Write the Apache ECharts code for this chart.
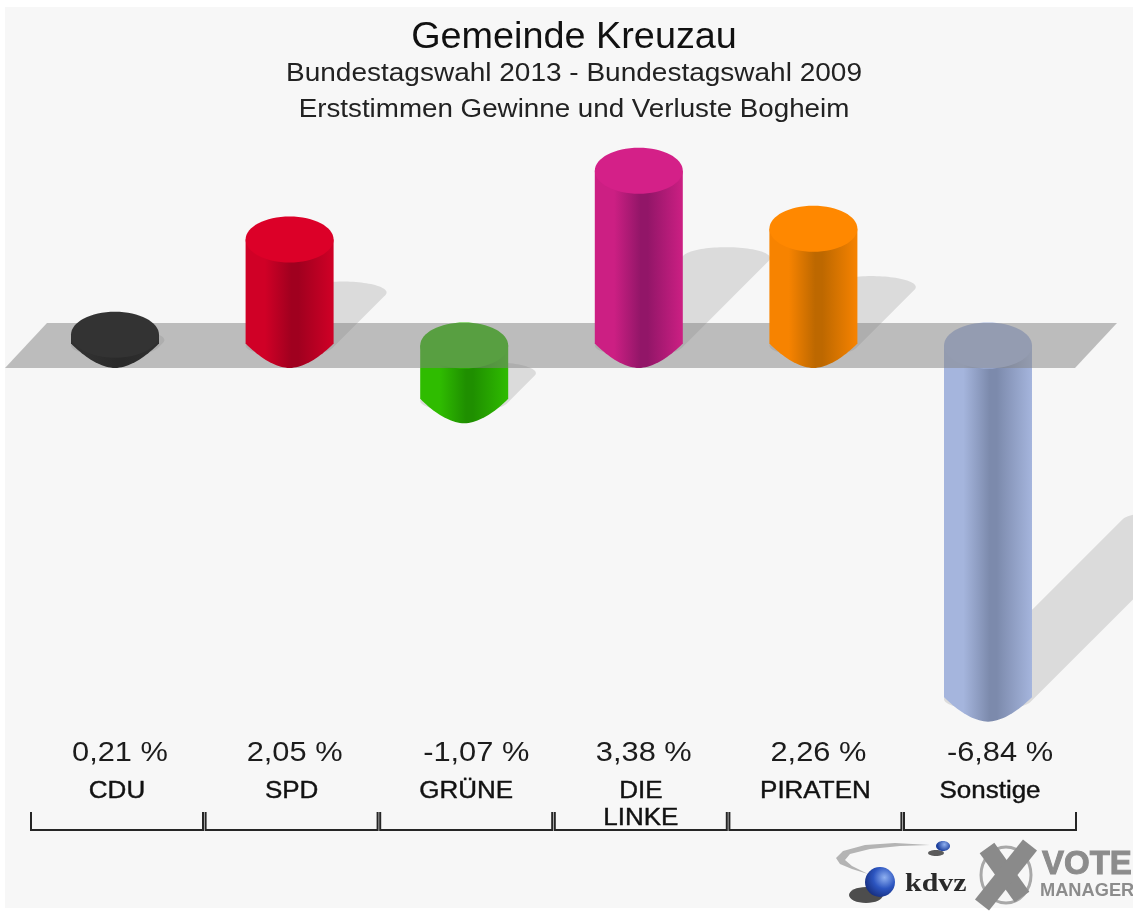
<!DOCTYPE html>
<html>
<head>
<meta charset="utf-8">
<title>Gemeinde Kreuzau</title>
<style>
  html, body { margin: 0; padding: 0; background: #ffffff; }
  #chart { width: 1133px; height: 911px; }
</style>
<script src="https://cdn.jsdelivr.net/npm/echarts@6/dist/echarts.min.js"></script>
</head>
<body>
<div id="chart"></div>
<script>
const categories = ["CDU", "SPD", "GRÜNE", "DIE\nLINKE", "PIRATEN", "Sonstige"];
const values = [0.21, 2.05, -1.07, 3.38, 2.26, -6.84];
const valueLabels = ["0,21 %", "2,05 %", "-1,07 %", "3,38 %", "2,26 %", "-6,84 %"];

// cap colour, side colour, darkest colour of the cylinder
const partyColors = [
  ["#333333", "#303030", "#2a2a2a"],
  ["#dc0028", "#d00026", "#a0001f"],
  ["#2fbc00", "#2fbc00", "#1f8f00"],
  ["#d42088", "#cc1f83", "#921668"],
  ["#ff8800", "#f78300", "#bd6800"],
  ["#a7b7e0", "#a5b5dd", "#7c8aac"],
];

const FONT = '"Liberation Sans", Arial, sans-serif';
const RX = 44;
const RY = 23;
const SHADOW_RY = 11;
const SHADOW_SHEAR = 0.5;

const points = values.map((v, i) => [i, v]);

const barGradient = (c) =>
  new echarts.graphic.LinearGradient(0, 0, 1, 0, [
    { offset: 0, color: c[1] },
    { offset: 0.22, color: c[1] },
    { offset: 0.52, color: c[2] },
    { offset: 0.6, color: c[2] },
    { offset: 1, color: c[1] },
  ]);

// cylinder standing on / hanging from the zero plane
const renderBar = (params, api) => {
  const i = api.value(0);
  const [cx, yv] = api.coord([i, api.value(1)]);
  const y0 = api.coord([i, 0])[1];
  const yTop = Math.min(yv, y0);
  const yBottom = Math.max(yv, y0);
  const c = partyColors[i];
  const pts = [[cx - RX, yTop]];
  // bottom is flatter at the sides than a real ellipse, the picture has a small corner there
  for (let k = -20; k <= 20; k++) {
    const t = k / 20;
    pts.push([cx + t * RX, yBottom - 2 + (RY + 1.5) * (1 - Math.pow(Math.abs(t), 1.8))]);
  }
  pts.push([cx + RX, yTop]);
  return {
    type: "group",
    children: [
      { type: "polygon", shape: { points: pts }, style: { fill: barGradient(c) } },
      {
        type: "ellipse",
        shape: { cx: cx, cy: yTop, rx: RX, ry: RY },
        style: { fill: c[0] },
      },
    ],
  };
};

// shadow is the base ellipse swept up and to the right
const renderShadow = (params, api) => {
  const i = api.value(0);
  const [cx, yv] = api.coord([i, api.value(1)]);
  const y0 = api.coord([i, 0])[1];
  const h = Math.abs(yv - y0);
  const baseY = Math.max(yv, y0);
  const d = h * SHADOW_SHEAR;
  const t0 = Math.atan2(SHADOW_RY, RX);
  const pts = [];
  for (let k = 0; k <= 48; k++) {
    const t = t0 + (k / 48) * Math.PI;
    pts.push([cx + RX * Math.cos(t), baseY + SHADOW_RY * Math.sin(t)]);
  }
  for (let k = 0; k <= 48; k++) {
    const t = t0 + Math.PI + (k / 48) * Math.PI;
    pts.push([cx + d + RX * Math.cos(t), baseY - d + SHADOW_RY * Math.sin(t)]);
  }
  return {
    type: "polygon",
    shape: { points: pts },
    style: { fill: "rgba(0,0,0,0.11)" },
  };
};

const renderPlane = (params, api) => {
  const [first, y0] = api.coord([0, 0]);
  const last = api.coord([categories.length - 1, 0])[0];
  return {
    type: "polygon",
    shape: {
      points: [
        [first - 110, y0 + 22.5],
        [last + 87, y0 + 22.5],
        [last + 129, y0 - 22.5],
        [first - 68, y0 - 22.5],
      ],
    },
    style: { fill: "rgba(130,130,130,0.5)" },
  };
};

const renderLabels = (params, api) => {
  const i = api.value(0);
  const cx = api.coord([i, 0])[0];
  return {
    type: "group",
    children: [
      {
        type: "text",
        x: cx + (api.value(1) < 0 ? 12 : 5),
        y: 753.5,
        scaleX: 1.1,
        style: {
          text: valueLabels[i],
          align: "center",
          verticalAlign: "middle",
          fontFamily: FONT,
          fontSize: 28,
          fill: "#1c1c1c",
        },
      },
      {
        type: "text",
        x: cx + 2,
        y: 778,
        scaleX: 1.13,
        style: {
          text: categories[i],
          align: "center",
          verticalAlign: "top",
          fontFamily: FONT,
          fontSize: 23,
          lineHeight: 27,
          fill: "#111111",
          stroke: "#111111",
          lineWidth: 0.4,
        },
      },
      {
        type: "polyline",
        shape: {
          points: [
            [cx - 84, 812],
            [cx - 84, 830],
            [cx + 88, 830],
            [cx + 88, 812],
          ],
        },
        style: { fill: "none", stroke: "#262626", lineWidth: 2 },
      },
    ],
  };
};

const headline = (text, y, size, stretch, color) => ({
  type: "text",
  x: 574,
  y: y,
  scaleX: stretch,
  style: {
    text: text,
    align: "center",
    verticalAlign: "middle",
    fontFamily: FONT,
    fontSize: size,
    fill: color,
  },
});

const myChart = echarts.init(document.getElementById("chart"), null, { renderer: "canvas" });

const option = {
  animation: false,
  backgroundColor: "#ffffff",
  grid: { left: 27.7, width: 1047.6, top: 138.7, height: 620.4 },
  xAxis: { type: "category", data: categories, show: false },
  yAxis: { type: "value", min: -8, max: 4, show: false },
  graphic: {
    elements: [
      { type: "rect", shape: { x: 5, y: 7, width: 1128, height: 901 }, style: { fill: "#f7f7f7" } },
      headline("Gemeinde Kreuzau", 38, 36, 1.05, "#111111"),
      headline("Bundestagswahl 2013 - Bundestagswahl 2009", 74, 25, 1.12, "#222222"),
      headline("Erststimmen Gewinne und Verluste Bogheim", 110, 25, 1.11, "#222222"),
      // kdvz logo
      {
        type: "polygon",
        shape: {
          points: [[930, 845], [895, 843], [865, 845], [843, 851], [836, 858], [840, 864], [852, 869], [868, 874], [852, 866], [845, 860], [850, 854], [870, 849], [900, 846]],
        },
        style: { fill: "#b4b4b4" },
      },
      { type: "ellipse", shape: { cx: 936, cy: 853, rx: 8, ry: 3 }, style: { fill: "#333333", opacity: 0.8 } },
      {
        type: "ellipse",
        shape: { cx: 943, cy: 846, rx: 7, ry: 5 },
        style: {
          fill: new echarts.graphic.RadialGradient(0.6, 0.35, 0.7, [
            { offset: 0, color: "#8fb0f0" },
            { offset: 1, color: "#1c3f9c" },
          ]),
        },
      },
      { type: "ellipse", shape: { cx: 866, cy: 895, rx: 17, ry: 8 }, style: { fill: "#222222", opacity: 0.8 } },
      {
        type: "circle",
        shape: { cx: 880, cy: 882, r: 15 },
        style: {
          fill: new echarts.graphic.RadialGradient(0.65, 0.35, 0.75, [
            { offset: 0, color: "#8fb0f0" },
            { offset: 0.5, color: "#2c55c0" },
            { offset: 1, color: "#142a78" },
          ]),
        },
      },
      {
        type: "text",
        x: 905,
        y: 884,
        scaleX: 1.15,
        style: {
          text: "kdvz",
          verticalAlign: "middle",
          fontFamily: '"Liberation Serif", serif',
          fontWeight: "bold",
          fontSize: 26,
          fill: "#2a2a2a",
        },
      },
      // vote manager logo
      { type: "ellipse", shape: { cx: 1006, cy: 875, rx: 25, ry: 28 }, style: { fill: "none", stroke: "#a8a8a8", lineWidth: 3 } },
      { type: "line", shape: { x1: 987, y1: 848, x2: 1022, y2: 897 }, style: { stroke: "#8a8a8a", lineWidth: 18 } },
      { type: "line", shape: { x1: 1030, y1: 845, x2: 982, y2: 905 }, style: { stroke: "#8a8a8a", lineWidth: 18 } },
      {
        type: "text",
        style: { text: "VOTE", x: 1042, y: 865, verticalAlign: "middle", fontFamily: FONT, fontWeight: "bold", fontSize: 33, fill: "#8c8c8c", stroke: "#8c8c8c", lineWidth: 1 },
      },
      {
        type: "text",
        x: 1040,
        y: 891,
        scaleX: 0.96,
        style: { text: "MANAGER", verticalAlign: "middle", fontFamily: FONT, fontWeight: "bold", fontSize: 19, fill: "#8c8c8c" },
      },
    ],
  },
  series: [
    { type: "custom", name: "shadow", z: 2, data: points, renderItem: renderShadow, silent: true },
    { type: "custom", name: "negative", z: 3, data: points.filter((p) => p[1] < 0), renderItem: renderBar },
    { type: "custom", name: "plane", z: 4, data: [[0, 0]], renderItem: renderPlane, silent: true },
    { type: "custom", name: "positive", z: 5, data: points.filter((p) => p[1] >= 0), renderItem: renderBar },
    { type: "custom", name: "labels", z: 6, data: points, renderItem: renderLabels, silent: true },
  ],
};

myChart.setOption(option);
</script>
</body>
</html>
